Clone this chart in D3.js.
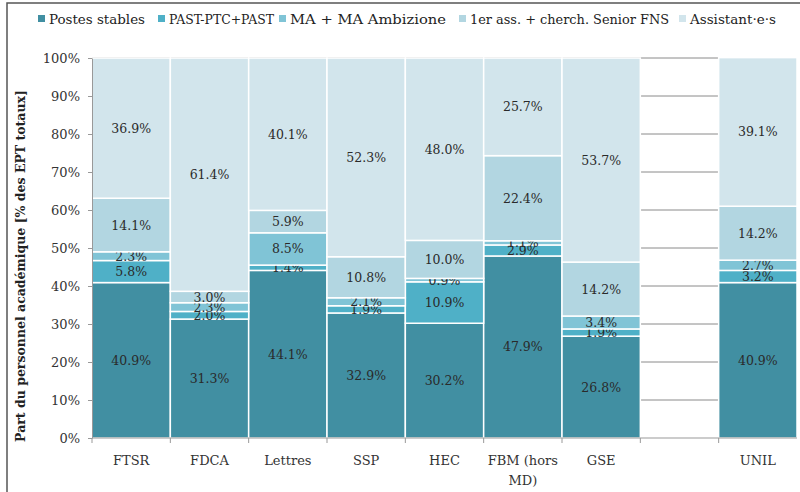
<!DOCTYPE html>
<html>
<head>
<meta charset="utf-8">
<script src="https://cdn.jsdelivr.net/npm/d3@7"></script>
<style>
  body { margin: 0; background: #fff; }
  svg { display: block; font-family: "DejaVu Serif", serif; }
</style>
</head>
<body>
<svg id="chart"></svg>
<script>
// categories (the empty one is the gap before UNIL)
const categories = ["FTSR", "FDCA", "Lettres", "SSP", "HEC", "FBM (hors MD)", "GSE", "", "UNIL"];
const seriesNames = ["Postes stables", "PAST-PTC+PAST", "MA + MA Ambizione", "1er ass. + cherch. Senior FNS", "Assistant·e·s"];

// values in % per category, same order as categories
const postesStables = [40.9, 31.3, 44.1, 32.9, 30.2, 47.9, 26.8, null, 40.9];
const pastPtc       = [5.8, 2.0, 1.4, 1.9, 10.9, 2.9, 1.9, null, 3.2];
const maAmbizione   = [2.3, 2.3, 8.5, 2.1, 0.9, 1.1, 3.4, null, 2.7];
const premierAss    = [14.1, 3.0, 5.9, 10.8, 10.0, 22.4, 14.2, null, 14.2];
const assistants    = [36.9, 61.4, 40.1, 52.3, 48.0, 25.7, 53.7, null, 39.1];

const yTicks = [0, 10, 20, 30, 40, 50, 60, 70, 80, 90, 100];
const colors = ["#418fa2", "#4fb0c7", "#80c4d6", "#b2d6e1", "#d2e5ec"];

const width = 800, height = 492;
const marginLeft = 92, marginRight = 3, marginTop = 58, marginBottom = 54;

const svg = d3.select("#chart")
    .attr("width", width)
    .attr("height", height)
    .attr("viewBox", [0, 0, width, height]);

// outer frame
svg.append("rect")
    .attr("x", 7).attr("y", 3)
    .attr("width", width + 10).attr("height", height + 10)
    .attr("fill", "none")
    .attr("stroke", "#555")
    .attr("stroke-width", 1.5);

const x = d3.scaleBand()
    .domain(categories.map((d, i) => i))
    .range([marginLeft, width - marginRight])
    .padding(0);

const y = d3.scaleLinear()
    .domain([0, 100])
    .range([height - marginBottom, marginTop]);

// gridlines (hidden behind bars except in the gap)
svg.append("g")
    .selectAll("line")
    .data(yTicks.slice(1))
    .join("line")
      .attr("x1", marginLeft).attr("x2", width - marginRight)
      .attr("y1", d => y(d)).attr("y2", d => y(d))
      .attr("stroke", "#8a8a8a")
      .attr("stroke-width", 1);

const table = categories.map((c, i) => ({
  key: i,
  values: [postesStables[i], pastPtc[i], maAmbizione[i], premierAss[i], assistants[i]]
})).filter(d => d.values[0] != null);

const stacked = d3.stack()
    .keys(d3.range(seriesNames.length))
    .value((d, k) => d.values[k])(table);

const layer = svg.append("g")
  .selectAll("g")
  .data(stacked)
  .join("g")
    .attr("fill", (d, i) => colors[i]);

layer.selectAll("rect")
  .data(d => d)
  .join("rect")
    .attr("x", d => x(d.data.key))
    .attr("width", x.bandwidth())
    .attr("y", d => y(d[1]))
    .attr("height", d => y(d[0]) - y(d[1]))
    .attr("stroke", "#fff")
    .attr("stroke-width", 1.5);

// value labels, centred in each segment (they overlap on thin ones, as in the original)
layer.selectAll("text")
  .data((d, i) => d.map(s => ({s, k: i})))
  .join("text")
    .attr("x", d => x(d.s.data.key) + x.bandwidth() / 2)
    .attr("y", d => (y(d.s[0]) + y(d.s[1])) / 2)
    .attr("dy", "0.36em")
    .attr("text-anchor", "middle")
    .attr("fill", "#2a2a2a")
    .attr("font-size", 12.5)
    .text(d => d.s.data.values[d.k].toFixed(1) + "%");

// y axis
svg.append("g")
    .attr("transform", `translate(${marginLeft},0)`)
    .call(d3.axisLeft(y).tickValues(yTicks).tickFormat(d => d + "%").tickSize(4).tickSizeOuter(0))
    .call(g => g.select(".domain").attr("stroke", "#999"))
    .call(g => g.selectAll(".tick line").attr("stroke", "#999"))
    .call(g => g.selectAll(".tick text")
        .attr("x", -12)
        .attr("font-family", "DejaVu Serif, serif")
        .attr("font-size", 13)
        .attr("fill", "#333"));

// x axis
const xAxis = svg.append("g")
    .attr("transform", `translate(0,${height - marginBottom})`);
xAxis.append("line")
    .attr("x1", marginLeft).attr("x2", width - marginRight)
    .attr("stroke", "#999");
xAxis.selectAll(".sep")
  .data(categories.map((d, i) => i))
  .join("line")
    .attr("x1", d => x(d)).attr("x2", d => x(d))
    .attr("y1", 0).attr("y2", 5)
    .attr("stroke", "#999");
xAxis.selectAll("text")
  .data(categories.map((d, i) => ({d, i})))
  .join("text")
    .attr("x", d => x(d.i) + x.bandwidth() / 2)
    .attr("y", 27)
    .attr("text-anchor", "middle")
    .attr("font-size", 13)
    .attr("fill", "#333")
    .each(function(d) {
      const parts = d.d === "FBM (hors MD)" ? ["FBM (hors", "MD)"] : [d.d];
      d3.select(this).selectAll("tspan")
        .data(parts)
        .join("tspan")
          .attr("x", x(d.i) + x.bandwidth() / 2)
          .attr("dy", (p, j) => j ? 20 : 0)
          .text(p => p);
    });

// y axis title
svg.append("text")
    .attr("transform", `translate(25,${(marginTop + height - marginBottom) / 2 + 18}) rotate(-90)`)
    .attr("text-anchor", "middle")
    .attr("font-weight", "bold")
    .attr("font-size", 12.5)
    .attr("fill", "#222")
    .text("Part du personnel académique [% des EPT totaux]");

// legend
const legendX = [38, 158, 279, 459, 679];
const legendW = [96, 105, 156, 199, 86];
const legend = svg.append("g")
  .selectAll("g")
  .data(seriesNames)
  .join("g")
    .attr("transform", (d, i) => `translate(${legendX[i]},20)`);
legend.append("rect")
    .attr("y", -5)
    .attr("width", 7).attr("height", 7)
    .attr("fill", (d, i) => colors[i]);
legend.append("text")
    .attr("x", 11)
    .attr("dy", "0.3em")
    .attr("font-size", 13)
    .attr("fill", "#222")
    .attr("textLength", (d, i) => legendW[i])
    .attr("lengthAdjust", "spacingAndGlyphs")
    .text(d => d);
</script>
</body>
</html>
